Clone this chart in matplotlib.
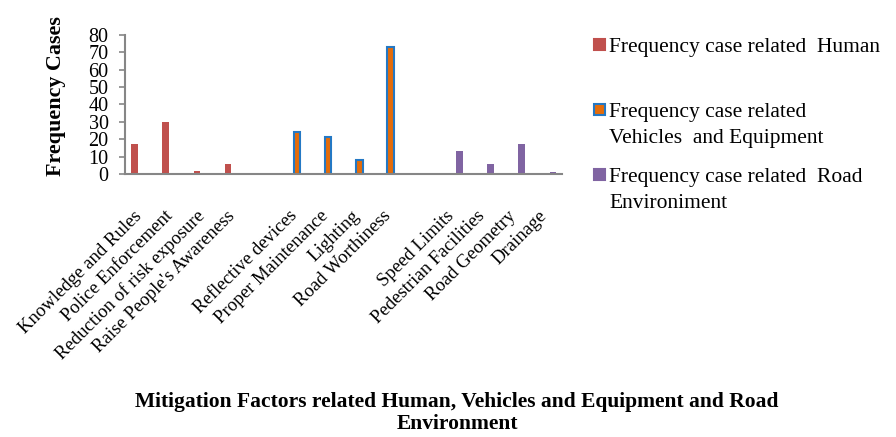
import matplotlib
matplotlib.use('Agg')
import matplotlib.pyplot as plt
import matplotlib.transforms as mtransforms
from matplotlib.patches import Rectangle
import numpy as np

plt.rcParams['font.family'] = ['Liberation Serif', 'DejaVu Serif']

categories = ['Knowledge and Rules', 'Police Enforcement', 'Reduction of risk exposure',
              "Raise People's Awareness", '', 'Reflective devices', 'Proper Maintenance',
              'Lighting', 'Road Worthiness', '', 'Speed Limits', 'Pedestrian Facilities',
              'Road Geometry', 'Drainage']
human = [17, 30, 2, 6, 0, 0, 0, 0, 0, 0, 0, 0, 0, 0]
vehicles = [0, 0, 0, 0, 0, 24, 21, 8, 73, 0, 0, 0, 0, 0]
road_env = [0, 0, 0, 0, 0, 0, 0, 0, 0, 0, 13, 6, 17, 1]
series_names = ['Frequency case related  Human',
                'Frequency case related\nVehicles  and Equipment',
                'Frequency case related  Road\nEnvironiment']

c_human = '#C0504D'
c_veh = '#E46C0A'
c_veh_edge = '#2478C4'
c_road = '#8064A2'

W, H = 896, 437
fig = plt.figure(figsize=(W / 100, H / 100), dpi=100)
ax = fig.add_axes([125.4 / W, 1 - 174 / H, 436.6 / W, 139.3 / H])

x = np.arange(len(categories))
w = 0.21

def draw(vals, off, **kw):
    xs = [xi + off for xi, v in zip(x, vals) if v > 0]
    hs = [v for v in vals if v > 0]
    ax.bar(xs, hs, width=w, **kw)

draw(human, -w, color=c_human)
draw(vehicles, 0, color=c_veh, edgecolor=c_veh_edge, linewidth=1.5)
draw(road_env, w, color=c_road)

ax.set_xlim(-0.5, len(categories) - 0.5)
ax.set_ylim(0, 80)
ax.set_yticks(range(0, 81, 10))
ax.tick_params(axis='y', labelsize=14.5, length=4, width=1.2, color='#868686', pad=8)
ax.set_xticks(x)
ax.set_xticklabels(categories, rotation=45, ha='right', va='top',
                   rotation_mode='anchor', fontsize=13.5)
ax.tick_params(axis='x', length=0, pad=24)
offset = mtransforms.ScaledTranslation(-8 / 100, 0, fig.dpi_scale_trans)
for lbl in ax.get_xticklabels():
    lbl.set_transform(lbl.get_transform() + offset)

for s in ['top', 'right']:
    ax.spines[s].set_visible(False)
for s in ['left', 'bottom']:
    ax.spines[s].set_color('#868686')
    ax.spines[s].set_linewidth(1.5)

ax.set_ylabel('Frequency Cases', fontsize=15.8, fontweight='bold')
ax.yaxis.set_label_coords(-0.136, 0.56)

fig.text(457 / W, 1 - 413 / H,
         'Mitigation Factors related Human, Vehicles and Equipment and Road\nEnvironment',
         ha='center', va='center', fontsize=15.5, fontweight='bold', linespacing=1.1)

# legend
leg_base = [52, 117, 182]
leg_colors = [(c_human, c_human), (c_veh, c_veh_edge), (c_road, c_road)]
for yb, name, (fc, ec) in zip(leg_base, series_names, leg_colors):
    fig.add_artist(Rectangle((594 / W, 1 - (yb - 2) / H), 11 / W, 11 / H,
                             transform=fig.transFigure, facecolor=fc, edgecolor=ec,
                             linewidth=1.5))
    for i, line in enumerate(name.split('\n')):
        fig.text(609 / W, 1 - (yb + 26 * i) / H, line, ha='left', va='baseline',
                 fontsize=15.5)

fig.savefig('out.png', dpi=100)
